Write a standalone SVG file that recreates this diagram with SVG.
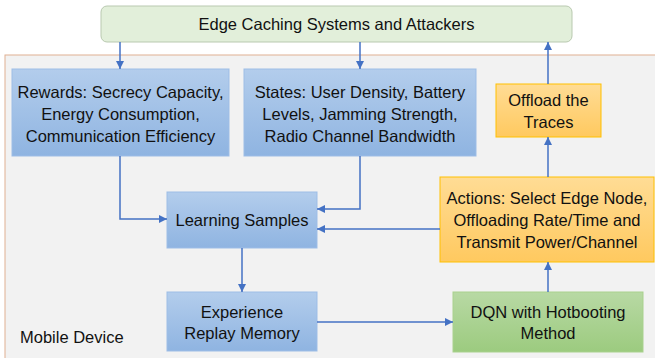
<svg xmlns="http://www.w3.org/2000/svg" width="655" height="358" viewBox="0 0 655 358">
<defs>
<linearGradient id="gBlue" x1="0" y1="0" x2="0" y2="1"><stop offset="0" stop-color="#b3cdec"/><stop offset="1" stop-color="#8fb4e1"/></linearGradient>
<linearGradient id="gOrange" x1="0" y1="0" x2="0" y2="1"><stop offset="0" stop-color="#ffdc95"/><stop offset="1" stop-color="#ffc95f"/></linearGradient>
<linearGradient id="gGreen" x1="0" y1="0" x2="0" y2="1"><stop offset="0" stop-color="#b8d9a4"/><stop offset="1" stop-color="#9ccb7f"/></linearGradient>
<marker id="arr" viewBox="0 0 10 10" refX="10" refY="5" markerWidth="8" markerHeight="8" markerUnits="userSpaceOnUse" orient="auto"><path d="M0,0 L10,5 L0,10 z" fill="#4472c4"/></marker>
</defs>
<style>
text{font-family:"Liberation Sans",Arial,sans-serif;font-size:16.5px;fill:#111;text-anchor:middle}
.blue{fill:url(#gBlue);stroke:#9dbde6;stroke-width:1}
.orange{fill:url(#gOrange);stroke:#ffc000;stroke-width:1}
.green{fill:url(#gGreen);stroke:#a9d18e;stroke-width:1}
.conn path{fill:none;stroke:#4472c4;stroke-width:1.5;marker-end:url(#arr)}
</style>
<rect width="655" height="358" fill="#ffffff"/>
<g id="mobile-device">
<rect x="5" y="55" width="660" height="320" fill="#f2f2f2" stroke="#e0b092" stroke-width="1"/>
<text x="20" y="343" style="text-anchor:start">Mobile Device</text>
</g>
<g id="edge-caching">
<rect x="101" y="6" width="471" height="36" rx="6" fill="#e2efda" stroke="#b9c9b0" stroke-width="1"/>
<text x="336.5" y="30">Edge Caching Systems and Attackers</text>
</g>
<g id="rewards">
<rect class="blue" x="12" y="69" width="217" height="87"/>
<text x="120.5" y="98">Rewards: Secrecy Capacity,</text>
<text x="120.5" y="120">Energy Consumption,</text>
<text x="120.5" y="142">Communication Efficiency</text>
</g>
<g id="states">
<rect class="blue" x="244" y="69" width="232" height="87"/>
<text x="360" y="98">States: User Density, Battery</text>
<text x="360" y="120">Levels, Jamming Strength,</text>
<text x="360" y="142">Radio Channel Bandwidth</text>
</g>
<g id="offload">
<rect class="orange" x="496" y="84" width="105" height="53"/>
<text x="548.5" y="106">Offload the</text>
<text x="548.5" y="128">Traces</text>
</g>
<g id="actions">
<rect class="orange" x="440" y="177" width="214" height="85"/>
<text x="547" y="203.5">Actions: Select Edge Node,</text>
<text x="547" y="225.5">Offloading Rate/Time and</text>
<text x="547" y="247.5">Transmit Power/Channel</text>
</g>
<g id="learning-samples">
<rect class="blue" x="167" y="192" width="150" height="56"/>
<text x="242" y="226">Learning Samples</text>
</g>
<g id="experience">
<rect class="blue" x="167" y="292" width="150" height="59"/>
<text x="242" y="318">Experience</text>
<text x="242" y="339">Replay Memory</text>
</g>
<g id="dqn">
<rect class="green" x="453" y="292" width="190" height="60"/>
<text x="548" y="318">DQN with Hotbooting</text>
<text x="548" y="339">Method</text>
</g>
<g id="connectors" class="conn">
<path d="M120,42 V69"/>
<path d="M360,42 V69"/>
<path d="M548,84 V42"/>
<path d="M120,156 V219 H167"/>
<path d="M360,156 V209 H317"/>
<path d="M440,229 H317"/>
<path d="M242,248 V292"/>
<path d="M317,322 H453"/>
<path d="M548,292 V262"/>
<path d="M548,177 V137"/>
</g>
</svg>
